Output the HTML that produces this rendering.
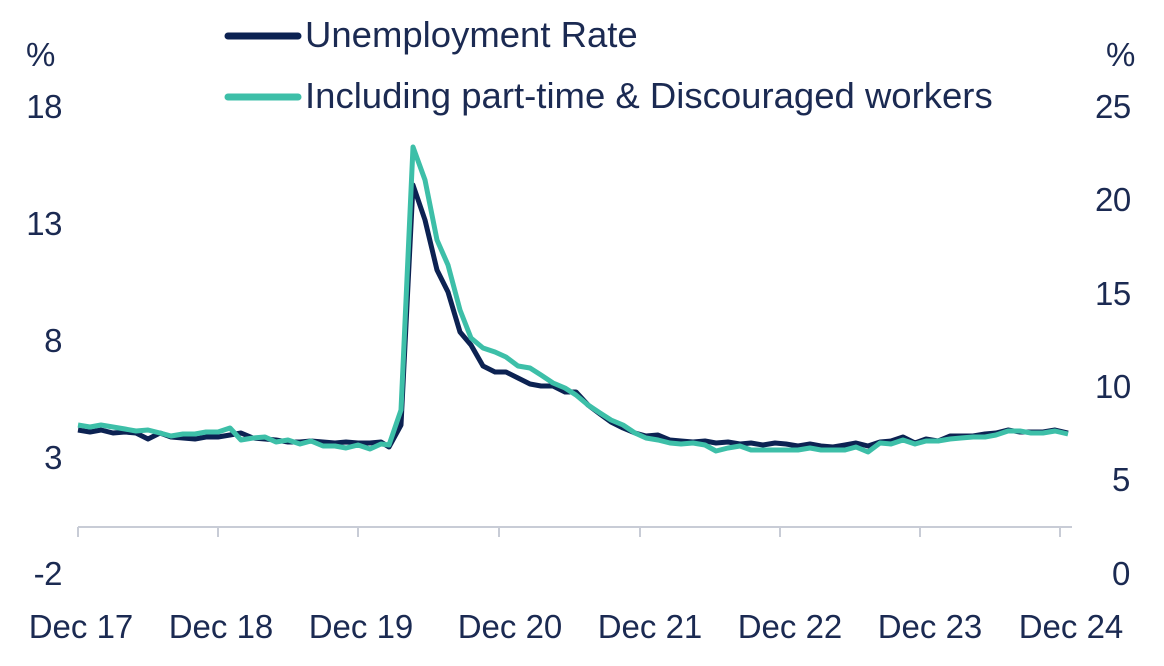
<!DOCTYPE html>
<html><head><meta charset="utf-8"><style>
html,body{margin:0;padding:0;background:#fff;}
svg text{font-family:"Liberation Sans",sans-serif;fill:#1b2a52;}
</style></head><body>
<svg width="1164" height="661" viewBox="0 0 1164 661" xmlns="http://www.w3.org/2000/svg">
<g font-size="33" letter-spacing="-0.5">
<text x="26" y="66">%</text>
<text x="1106" y="66">%</text>
<text x="62" y="118" text-anchor="end">18</text>
<text x="62" y="235" text-anchor="end">13</text>
<text x="62" y="352" text-anchor="end">8</text>
<text x="62" y="469" text-anchor="end">3</text>
<text x="62" y="585" text-anchor="end">-2</text>
<text x="1095" y="118">25</text>
<text x="1095" y="211">20</text>
<text x="1095" y="305">15</text>
<text x="1095" y="398">10</text>
<text x="1112" y="491">5</text>
<text x="1112" y="585">0</text>
</g>
<g font-size="33">
<text x="81" y="638" text-anchor="middle">Dec 17</text>
<text x="221" y="638" text-anchor="middle">Dec 18</text>
<text x="361" y="638" text-anchor="middle">Dec 19</text>
<text x="510" y="638" text-anchor="middle">Dec 20</text>
<text x="650" y="638" text-anchor="middle">Dec 21</text>
<text x="790" y="638" text-anchor="middle">Dec 22</text>
<text x="930" y="638" text-anchor="middle">Dec 23</text>
<text x="1071" y="638" text-anchor="middle">Dec 24</text>
</g>
<g font-size="36.5">
<text x="305" y="47">Unemployment Rate</text>
<text x="305" y="108">Including part-time &amp; Discouraged workers</text>
</g>
<line x1="228" y1="36" x2="298" y2="36" stroke="#0c2252" stroke-width="7" stroke-linecap="round"/>
<line x1="228" y1="97" x2="298" y2="97" stroke="#3dbfa8" stroke-width="7" stroke-linecap="round"/>
<g stroke="#c8ccd6" stroke-width="2">
<line x1="78" y1="527" x2="1072" y2="527"/>
<line x1="78" y1="527" x2="78" y2="537"/><line x1="218" y1="527" x2="218" y2="537"/>
<line x1="358" y1="527" x2="358" y2="537"/><line x1="499" y1="527" x2="499" y2="537"/>
<line x1="640" y1="527" x2="640" y2="537"/><line x1="780" y1="527" x2="780" y2="537"/>
<line x1="920" y1="527" x2="920" y2="537"/><line x1="1060" y1="527" x2="1060" y2="537"/>
</g>
<polyline fill="none" stroke="#0c2252" stroke-width="5" stroke-linejoin="round" points="78,430 90,432 101,430 113,433 125,432 136,433 148,439 160,433 171,437 183,438 195,439 206,437 218,437 230,435 241,433 253,438 265,439 276,440 288,442 300,442 311,441 323,442 335,443 346,442 358,443 370,443 381,442 389,447 401,425 413,185 425,220 437,270 448,292 460,332 471,345 483,366 495,372 506,372 518,378 530,384 541,386 553,386 565,392 576,392 588,405 600,414 611,422 623,428 635,433 646,436 658,435 670,440 681,441 693,442 705,441 716,443 728,442 740,444 751,443 763,445 775,443 786,444 798,446 810,444 821,446 833,447 845,445 856,443 868,446 880,442 891,441 903,437 915,443 926,439 938,441 950,436 961,436 973,436 985,434 996,433 1008,430 1020,432 1031,432 1043,432 1055,430 1068,433"/>
<polyline fill="none" stroke="#3dbfa8" stroke-width="5" stroke-linejoin="round" points="78,425 90,427 101,425 113,427 125,429 136,431 148,430 160,433 171,436 183,434 195,434 206,432 218,432 230,428 241,440 253,438 265,437 276,442 288,440 300,444 311,441 323,446 335,446 346,448 358,445 370,449 381,444 389,445 401,410 413,147 425,180 437,240 448,265 460,310 471,338 483,348 495,352 506,357 518,366 530,368 541,375 553,383 565,388 576,395 588,405 600,413 611,420 623,425 635,433 646,438 658,440 670,443 681,444 693,443 705,445 716,451 728,448 740,446 751,450 763,450 775,450 786,450 798,450 810,448 821,450 833,450 845,450 856,447 868,452 880,443 891,444 903,440 915,444 926,441 938,441 950,439 961,438 973,437 985,437 996,435 1008,431 1020,431 1031,433 1043,433 1055,431 1068,434"/>
</svg>
</body></html>
